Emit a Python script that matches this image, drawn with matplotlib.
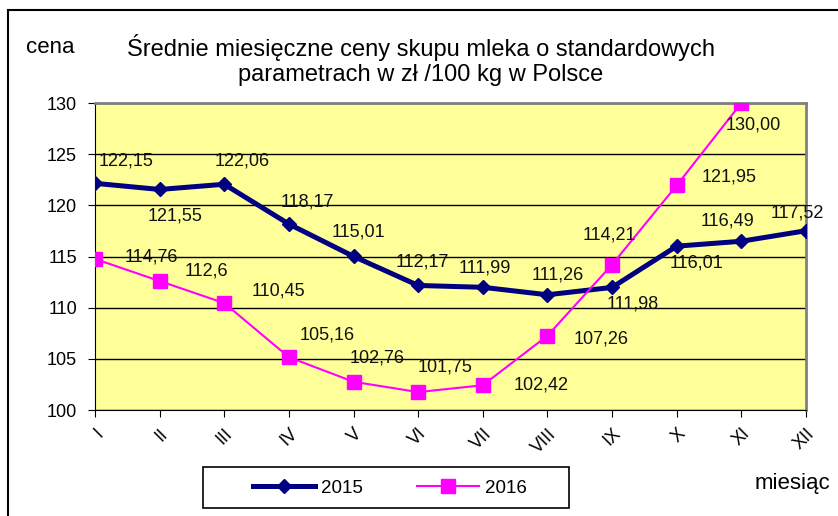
import matplotlib
matplotlib.use('Agg')
import matplotlib.pyplot as plt
from matplotlib.patches import Rectangle

plt.rcParams['font.family'] = ['Liberation Sans', 'DejaVu Sans']

# Data
months = ['I', 'II', 'III', 'IV', 'V', 'VI', 'VII', 'VIII', 'IX', 'X', 'XI', 'XII']
y2015 = [122.15, 121.55, 122.06, 118.17, 115.01, 112.17, 111.99, 111.26, 111.98, 116.01, 116.49, 117.52]
y2016 = [114.76, 112.6, 110.45, 105.16, 102.76, 101.75, 102.42, 107.26, 114.21, 121.95, 130.00]
labels2015 = ['122,15', '121,55', '122,06', '118,17', '115,01', '112,17', '111,99', '111,26', '111,98', '116,01', '116,49', '117,52']
labels2016 = ['114,76', '112,6', '110,45', '105,16', '102,76', '101,75', '102,42', '107,26', '114,21', '121,95', '130,00']

# label offsets in pixels (dx, dy down positive)
off2015 = [(31, -22), (15, 27), (18, -23), (18, -22), (5, -24), (4, -23), (2, -19),
           (10, -20), (21, 17), (20, 17), (-14, -20), (-9, -18)]
off2016 = [(56, -2), (47, -10), (54, -12), (38, -22), (24, -24), (27, -25), (58, 0),
           (54, 3), (-3, -30), (52, -8), (12, 22)]

fig = plt.figure(figsize=(8.38, 5.16), dpi=100)

# outer frame
fig.patches.append(Rectangle((8 / 838, -0.1), 1.2, (516 - 10) / 516 + 0.1,
                             transform=fig.transFigure, fill=False,
                             edgecolor='black', linewidth=1.5))

ax = fig.add_axes([95 / 838, (516 - 410) / 516, (806 - 95) / 838, (410 - 103) / 516])
ax.set_facecolor('#FFFF99')

x = list(range(len(months)))
ax.plot(x, y2015, color='#000080', linewidth=3.6, marker='D', markersize=7, label='2015', zorder=3)
ax.plot(x[:len(y2016)], y2016, color='#FF00FF', linewidth=1.5, marker='s', markersize=10.5, label='2016', zorder=4)

for i, (v, t) in enumerate(zip(y2015, labels2015)):
    ax.annotate(t, (i, v), xytext=(off2015[i][0] * 0.72, -off2015[i][1] * 0.72),
                textcoords='offset points', ha='center', va='center', fontsize=13, color='#111111', zorder=5)
for i, (v, t) in enumerate(zip(y2016, labels2016)):
    ax.annotate(t, (i, v), xytext=(off2016[i][0] * 0.72, -off2016[i][1] * 0.72),
                textcoords='offset points', ha='center', va='center', fontsize=13, color='#111111', zorder=5)

ax.set_xlim(0, 11)
ax.set_ylim(100, 130)
ax.set_yticks(range(100, 131, 5))
ax.grid(axis='y', color='black', linewidth=1)
ax.set_axisbelow(True)
ax.set_xticks(x)
ax.set_xticklabels(months, rotation=45, ha='right', va='top', rotation_mode='anchor', fontsize=13)
ax.tick_params(axis='y', labelsize=13, length=5, direction='out', pad=8)
ax.tick_params(axis='x', length=5, direction='out', pad=6)

ax.spines['top'].set_color('#808080')
ax.spines['right'].set_color('#808080')
ax.spines['top'].set_linewidth(2)
ax.spines['right'].set_linewidth(2)

# title and axis captions
fig.text(421 / 838, 1 - 48 / 516, 'Średnie miesięczne ceny skupu mleka o standardowych',
         ha='center', va='center', fontsize=17)
fig.text(421 / 838, 1 - 75 / 516, 'parametrach w zł /100 kg w Polsce',
         ha='center', va='center', fontsize=17)
fig.text(50 / 838, 1 - 48 / 516, 'cena', ha='center', va='center', fontsize=16)
fig.text(792 / 838, 1 - 483 / 516, 'miesiąc', ha='center', va='center', fontsize=16)

# legend with its own frame
fig.patches.append(Rectangle((203 / 838, 1 - 508 / 516), 366 / 838, 41 / 516,
                             transform=fig.transFigure, fill=False,
                             edgecolor='black', linewidth=1.2))
fig.legend(loc='center', bbox_to_anchor=(390 / 838, 1 - 488 / 516),
           ncol=2, frameon=False, fontsize=13.5,
           handlelength=3.3, columnspacing=2.9, handletextpad=0.3)

fig.savefig('out.png', dpi=100)
